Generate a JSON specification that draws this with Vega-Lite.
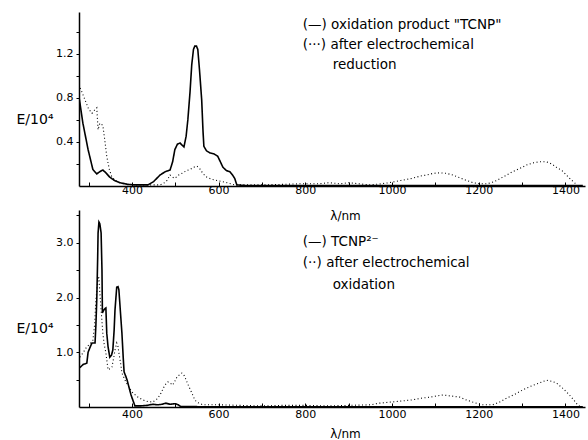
{
  "$schema": "https://vega.github.io/schema/vega-lite/v6.json",
  "background": "white",
  "padding": {"left": 16, "top": 12, "right": 3, "bottom": 0},
  "bounds": "flush",
  "spacing": 24,
  "config": {
    "view": {"stroke": null},
    "font": "DejaVu Sans",
    "axis": {"grid": false, "domainColor": "black", "domainWidth": 1.5, "tickColor": "black", "labelColor": "black", "titleColor": "black", "labelFont": "DejaVu Sans", "titleFont": "DejaVu Sans", "labelFontSize": 11, "titleFontWeight": "normal", "labelOverlap": false}
  },
  "datasets": {
    "top": [
      {"series":"solid","nm":278,"E":0.81},{"series":"solid","nm":287,"E":0.57},{"series":"solid","nm":299,"E":0.33},{"series":"solid","nm":310,"E":0.15},{"series":"solid","nm":319,"E":0.11},{"series":"solid","nm":326,"E":0.13},{"series":"solid","nm":333,"E":0.145},{"series":"solid","nm":340,"E":0.12},{"series":"solid","nm":349,"E":0.08},{"series":"solid","nm":360,"E":0.05},{"series":"solid","nm":372,"E":0.03},{"series":"solid","nm":390,"E":0.015},{"series":"solid","nm":407,"E":0.01},{"series":"solid","nm":437,"E":0.01},{"series":"solid","nm":450,"E":0.04},{"series":"solid","nm":465,"E":0.10},{"series":"solid","nm":477,"E":0.13},{"series":"solid","nm":488,"E":0.145},{"series":"solid","nm":494,"E":0.22},{"series":"solid","nm":499,"E":0.33},{"series":"solid","nm":505,"E":0.38},{"series":"solid","nm":511,"E":0.39},{"series":"solid","nm":516,"E":0.37},{"series":"solid","nm":520,"E":0.355},{"series":"solid","nm":525,"E":0.45},{"series":"solid","nm":529,"E":0.6},{"series":"solid","nm":534,"E":0.85},{"series":"solid","nm":538,"E":1.1},{"series":"solid","nm":542,"E":1.24},{"series":"solid","nm":545,"E":1.27},{"series":"solid","nm":549,"E":1.27},{"series":"solid","nm":552,"E":1.24},{"series":"solid","nm":556,"E":1.05},{"series":"solid","nm":561,"E":0.78},{"series":"solid","nm":564,"E":0.5},{"series":"solid","nm":566,"E":0.36},{"series":"solid","nm":572,"E":0.32},{"series":"solid","nm":580,"E":0.30},{"series":"solid","nm":590,"E":0.29},{"series":"solid","nm":598,"E":0.27},{"series":"solid","nm":604,"E":0.22},{"series":"solid","nm":610,"E":0.17},{"series":"solid","nm":618,"E":0.14},{"series":"solid","nm":626,"E":0.13},{"series":"solid","nm":632,"E":0.10},{"series":"solid","nm":637,"E":0.07},{"series":"solid","nm":642,"E":0.01},{"series":"solid","nm":660,"E":0.005},{"series":"solid","nm":800,"E":0.005},{"series":"solid","nm":1000,"E":0.005},{"series":"solid","nm":1200,"E":0.005},{"series":"solid","nm":1440,"E":0.005},
      {"series":"dotted","nm":278,"E":0.92},{"series":"dotted","nm":285,"E":0.85},{"series":"dotted","nm":292,"E":0.78},{"series":"dotted","nm":300,"E":0.70},{"series":"dotted","nm":308,"E":0.66},{"series":"dotted","nm":314,"E":0.69},{"series":"dotted","nm":319,"E":0.71},{"series":"dotted","nm":322,"E":0.51},{"series":"dotted","nm":326,"E":0.57},{"series":"dotted","nm":330,"E":0.56},{"series":"dotted","nm":333,"E":0.55},{"series":"dotted","nm":338,"E":0.40},{"series":"dotted","nm":342,"E":0.27},{"series":"dotted","nm":348,"E":0.15},{"series":"dotted","nm":354,"E":0.08},{"series":"dotted","nm":362,"E":0.05},{"series":"dotted","nm":372,"E":0.03},{"series":"dotted","nm":390,"E":0.015},{"series":"dotted","nm":407,"E":0.01},{"series":"dotted","nm":465,"E":0.01},{"series":"dotted","nm":475,"E":0.03},{"series":"dotted","nm":481,"E":0.05},{"series":"dotted","nm":488,"E":0.10},{"series":"dotted","nm":494,"E":0.08},{"series":"dotted","nm":499,"E":0.07},{"series":"dotted","nm":508,"E":0.10},{"series":"dotted","nm":518,"E":0.12},{"series":"dotted","nm":526,"E":0.14},{"series":"dotted","nm":534,"E":0.15},{"series":"dotted","nm":542,"E":0.17},{"series":"dotted","nm":550,"E":0.18},{"series":"dotted","nm":556,"E":0.16},{"series":"dotted","nm":561,"E":0.13},{"series":"dotted","nm":567,"E":0.10},{"series":"dotted","nm":573,"E":0.08},{"series":"dotted","nm":585,"E":0.06},{"series":"dotted","nm":596,"E":0.05},{"series":"dotted","nm":608,"E":0.04},{"series":"dotted","nm":619,"E":0.03},{"series":"dotted","nm":637,"E":0.01},{"series":"dotted","nm":700,"E":0.01},{"series":"dotted","nm":750,"E":0.015},{"series":"dotted","nm":787,"E":0.02},{"series":"dotted","nm":830,"E":0.02},{"series":"dotted","nm":856,"E":0.03},{"series":"dotted","nm":880,"E":0.02},{"series":"dotted","nm":900,"E":0.03},{"series":"dotted","nm":948,"E":0.01},{"series":"dotted","nm":975,"E":0.02},{"series":"dotted","nm":994,"E":0.03},{"series":"dotted","nm":1020,"E":0.05},{"series":"dotted","nm":1047,"E":0.07},{"series":"dotted","nm":1065,"E":0.09},{"series":"dotted","nm":1080,"E":0.10},{"series":"dotted","nm":1095,"E":0.115},{"series":"dotted","nm":1110,"E":0.12},{"series":"dotted","nm":1125,"E":0.115},{"series":"dotted","nm":1140,"E":0.10},{"series":"dotted","nm":1156,"E":0.075},{"series":"dotted","nm":1172,"E":0.05},{"series":"dotted","nm":1187,"E":0.03},{"series":"dotted","nm":1202,"E":0.02},{"series":"dotted","nm":1220,"E":0.02},{"series":"dotted","nm":1232,"E":0.035},{"series":"dotted","nm":1241,"E":0.05},{"series":"dotted","nm":1260,"E":0.09},{"series":"dotted","nm":1278,"E":0.13},{"series":"dotted","nm":1295,"E":0.16},{"series":"dotted","nm":1310,"E":0.19},{"series":"dotted","nm":1325,"E":0.21},{"series":"dotted","nm":1340,"E":0.22},{"series":"dotted","nm":1356,"E":0.22},{"series":"dotted","nm":1368,"E":0.20},{"series":"dotted","nm":1379,"E":0.17},{"series":"dotted","nm":1392,"E":0.14},{"series":"dotted","nm":1402,"E":0.10},{"series":"dotted","nm":1412,"E":0.06},{"series":"dotted","nm":1421,"E":0.03},{"series":"dotted","nm":1428,"E":0.0}
    ],
    "bottom": [
      {"series":"solid","nm":280,"E":0.72},{"series":"solid","nm":288,"E":0.78},{"series":"solid","nm":296,"E":0.80},{"series":"solid","nm":299,"E":1.0},{"series":"solid","nm":304,"E":1.1},{"series":"solid","nm":308,"E":1.17},{"series":"solid","nm":315,"E":1.17},{"series":"solid","nm":317,"E":1.5},{"series":"solid","nm":319,"E":1.96},{"series":"solid","nm":321,"E":2.7},{"series":"solid","nm":322,"E":3.18},{"series":"solid","nm":324,"E":3.38},{"series":"solid","nm":326,"E":3.35},{"series":"solid","nm":329,"E":3.18},{"series":"solid","nm":331,"E":2.5},{"series":"solid","nm":332,"E":1.72},{"series":"solid","nm":335,"E":1.77},{"series":"solid","nm":338,"E":1.80},{"series":"solid","nm":340,"E":1.81},{"series":"solid","nm":342,"E":1.35},{"series":"solid","nm":345,"E":1.1},{"series":"solid","nm":349,"E":0.91},{"series":"solid","nm":353,"E":0.95},{"series":"solid","nm":356,"E":1.04},{"series":"solid","nm":359,"E":1.4},{"series":"solid","nm":361,"E":1.77},{"series":"solid","nm":365,"E":2.19},{"series":"solid","nm":368,"E":2.2},{"series":"solid","nm":370,"E":2.14},{"series":"solid","nm":373,"E":1.8},{"series":"solid","nm":377,"E":1.35},{"series":"solid","nm":380,"E":0.9},{"series":"solid","nm":382,"E":0.64},{"series":"solid","nm":386,"E":0.56},{"series":"solid","nm":389,"E":0.49},{"series":"solid","nm":392,"E":0.4},{"series":"solid","nm":395,"E":0.31},{"series":"solid","nm":398,"E":0.22},{"series":"solid","nm":402,"E":0.13},{"series":"solid","nm":407,"E":0.02},{"series":"solid","nm":420,"E":0.02},{"series":"solid","nm":435,"E":0.03},{"series":"solid","nm":448,"E":0.05},{"series":"solid","nm":460,"E":0.04},{"series":"solid","nm":470,"E":0.05},{"series":"solid","nm":478,"E":0.07},{"series":"solid","nm":488,"E":0.05},{"series":"solid","nm":500,"E":0.06},{"series":"solid","nm":507,"E":0.04},{"series":"solid","nm":512,"E":0.01},{"series":"solid","nm":560,"E":0.005},{"series":"solid","nm":1440,"E":0.005},
      {"series":"dotted","nm":280,"E":0.91},{"series":"dotted","nm":288,"E":1.0},{"series":"dotted","nm":296,"E":1.1},{"series":"dotted","nm":303,"E":1.15},{"series":"dotted","nm":310,"E":1.22},{"series":"dotted","nm":314,"E":1.5},{"series":"dotted","nm":317,"E":1.96},{"series":"dotted","nm":320,"E":2.2},{"series":"dotted","nm":322,"E":2.36},{"series":"dotted","nm":324,"E":2.36},{"series":"dotted","nm":326,"E":2.1},{"series":"dotted","nm":329,"E":1.77},{"series":"dotted","nm":333,"E":1.35},{"series":"dotted","nm":336,"E":1.15},{"series":"dotted","nm":340,"E":0.99},{"series":"dotted","nm":345,"E":0.68},{"series":"dotted","nm":350,"E":0.7},{"series":"dotted","nm":354,"E":0.73},{"series":"dotted","nm":358,"E":0.9},{"series":"dotted","nm":361,"E":1.04},{"series":"dotted","nm":365,"E":1.17},{"series":"dotted","nm":368,"E":1.1},{"series":"dotted","nm":370,"E":0.99},{"series":"dotted","nm":374,"E":0.8},{"series":"dotted","nm":377,"E":0.62},{"series":"dotted","nm":381,"E":0.55},{"series":"dotted","nm":386,"E":0.46},{"series":"dotted","nm":394,"E":0.35},{"series":"dotted","nm":402,"E":0.26},{"series":"dotted","nm":412,"E":0.19},{"series":"dotted","nm":425,"E":0.13},{"series":"dotted","nm":437,"E":0.1},{"series":"dotted","nm":448,"E":0.09},{"series":"dotted","nm":457,"E":0.14},{"series":"dotted","nm":465,"E":0.22},{"series":"dotted","nm":471,"E":0.32},{"series":"dotted","nm":476,"E":0.40},{"series":"dotted","nm":483,"E":0.46},{"series":"dotted","nm":488,"E":0.44},{"series":"dotted","nm":494,"E":0.40},{"series":"dotted","nm":499,"E":0.47},{"series":"dotted","nm":504,"E":0.55},{"series":"dotted","nm":510,"E":0.59},{"series":"dotted","nm":515,"E":0.62},{"series":"dotted","nm":519,"E":0.6},{"series":"dotted","nm":522,"E":0.55},{"series":"dotted","nm":530,"E":0.4},{"series":"dotted","nm":538,"E":0.26},{"series":"dotted","nm":544,"E":0.15},{"series":"dotted","nm":549,"E":0.09},{"series":"dotted","nm":564,"E":0.04},{"series":"dotted","nm":600,"E":0.04},{"series":"dotted","nm":650,"E":0.03},{"series":"dotted","nm":700,"E":0.02},{"series":"dotted","nm":750,"E":0.03},{"series":"dotted","nm":800,"E":0.03},{"series":"dotted","nm":850,"E":0.02},{"series":"dotted","nm":900,"E":0.03},{"series":"dotted","nm":950,"E":0.04},{"series":"dotted","nm":971,"E":0.07},{"series":"dotted","nm":1010,"E":0.1},{"series":"dotted","nm":1047,"E":0.13},{"series":"dotted","nm":1067,"E":0.16},{"series":"dotted","nm":1087,"E":0.18},{"series":"dotted","nm":1102,"E":0.2},{"series":"dotted","nm":1117,"E":0.22},{"series":"dotted","nm":1137,"E":0.2},{"series":"dotted","nm":1156,"E":0.18},{"series":"dotted","nm":1171,"E":0.13},{"series":"dotted","nm":1186,"E":0.09},{"series":"dotted","nm":1199,"E":0.06},{"series":"dotted","nm":1209,"E":0.04},{"series":"dotted","nm":1232,"E":0.04},{"series":"dotted","nm":1248,"E":0.09},{"series":"dotted","nm":1264,"E":0.16},{"series":"dotted","nm":1283,"E":0.23},{"series":"dotted","nm":1301,"E":0.31},{"series":"dotted","nm":1320,"E":0.38},{"series":"dotted","nm":1340,"E":0.44},{"series":"dotted","nm":1356,"E":0.49},{"series":"dotted","nm":1368,"E":0.47},{"series":"dotted","nm":1379,"E":0.44},{"series":"dotted","nm":1394,"E":0.34},{"series":"dotted","nm":1409,"E":0.22},{"series":"dotted","nm":1420,"E":0.12},{"series":"dotted","nm":1428,"E":0.04},{"series":"dotted","nm":1435,"E":0.0}
    ],
    "labels_top": [
      {"nm":794,"E":1.46,"label":"(—) oxidation product \"TCNP\""},
      {"nm":794,"E":1.28,"label":"(···) after electrochemical"},
      {"nm":863,"E":1.10,"label":"reduction"}
    ],
    "labels_bottom": [
      {"nm":794,"E":3.02,"label":"(—) TCNP²⁻"},
      {"nm":794,"E":2.63,"label":"(··) after electrochemical"},
      {"nm":863,"E":2.23,"label":"oxidation"}
    ]
  },
  "vconcat": [
    {
      "width": 506,
      "height": 174,
      "resolve": {"axis": {"y": "independent"}},
      "layer": [
        {
          "data": {"name": "top"},
          "mark": {"type": "line", "color": "black", "clip": true},
          "encoding": {
            "x": {"field": "nm", "type": "quantitative", "scale": {"domain": [278, 1445], "nice": false, "zero": false},
              "axis": {"values": [300,400,500,600,700,800,900,1000,1100,1200,1300,1400], "labelExpr": "datum.value % 200 == 0 ? datum.label : ''", "format": "d", "tickSize": -4, "labelPadding": 2, "labelBaseline": "top", "title": "λ/nm", "titleFontSize": 12, "titleX": 266, "titleY": 29, "titleBaseline": "middle"}},
            "y": {"field": "E", "type": "quantitative", "scale": {"domain": [0, 1.58], "nice": false},
              "axis": {"orient": "left", "values": [0.4,0.8,1.2], "format": ".1f", "tickSize": 3, "labelPadding": 3, "title": "E/10⁴", "titleFontSize": 14, "titleAngle": 0, "titleAlign": "right", "titleBaseline": "middle", "titleX": -26, "titleY": 107}},
            "detail": {"field": "series"},
            "strokeDash": {"field": "series", "type": "nominal", "scale": {"domain": ["solid", "dotted"], "range": [[1, 0], [1, 2.5]]}, "legend": null},
            "strokeWidth": {"field": "series", "type": "nominal", "scale": {"domain": ["solid", "dotted"], "range": [1.6, 1.1]}, "legend": null}
          }
        },
        {
          "data": {"name": "labels_top"},
          "mark": {"type": "text", "align": "left", "baseline": "middle", "fontSize": 13.5, "color": "black"},
          "encoding": {
            "x": {"field": "nm", "type": "quantitative"},
            "y": {"field": "E", "type": "quantitative", "axis": {"orient": "left", "values": [0.2,0.6,1.0,1.4], "labels": false, "title": null, "domain": false, "tickSize": 3}},
            "text": {"field": "label"}
          }
        }
      ]
    },
    {
      "width": 506,
      "height": 197,
      "resolve": {"axis": {"y": "independent"}},
      "layer": [
        {
          "data": {"name": "bottom"},
          "mark": {"type": "line", "color": "black", "clip": true},
          "encoding": {
            "x": {"field": "nm", "type": "quantitative", "scale": {"domain": [278, 1445], "nice": false, "zero": false},
              "axis": {"values": [300,400,500,600,700,800,900,1000,1100,1200,1300,1400], "labelExpr": "datum.value % 200 == 0 ? datum.label : ''", "format": "d", "tickSize": -4, "labelPadding": 5, "labelBaseline": "top", "title": "λ/nm", "titleFontSize": 12, "titleX": 266, "titleY": 26, "titleBaseline": "middle"}},
            "y": {"field": "E", "type": "quantitative", "scale": {"domain": [0, 3.6], "nice": false},
              "axis": {"orient": "left", "values": [1.0,2.0,3.0], "format": ".1f", "tickSize": 3, "labelPadding": 3, "title": "E/10⁴", "titleFontSize": 14, "titleAngle": 0, "titleAlign": "right", "titleBaseline": "middle", "titleX": -26, "titleY": 118}},
            "detail": {"field": "series"},
            "strokeDash": {"field": "series", "type": "nominal", "scale": {"domain": ["solid", "dotted"], "range": [[1, 0], [1, 2.5]]}, "legend": null},
            "strokeWidth": {"field": "series", "type": "nominal", "scale": {"domain": ["solid", "dotted"], "range": [1.6, 1.1]}, "legend": null}
          }
        },
        {
          "data": {"name": "labels_bottom"},
          "mark": {"type": "text", "align": "left", "baseline": "middle", "fontSize": 13.5, "color": "black"},
          "encoding": {
            "x": {"field": "nm", "type": "quantitative"},
            "y": {"field": "E", "type": "quantitative", "axis": {"orient": "left", "values": [0.5,1.5,2.5,3.5], "labels": false, "title": null, "domain": false, "tickSize": 3}},
            "text": {"field": "label"}
          }
        }
      ]
    }
  ]
}
